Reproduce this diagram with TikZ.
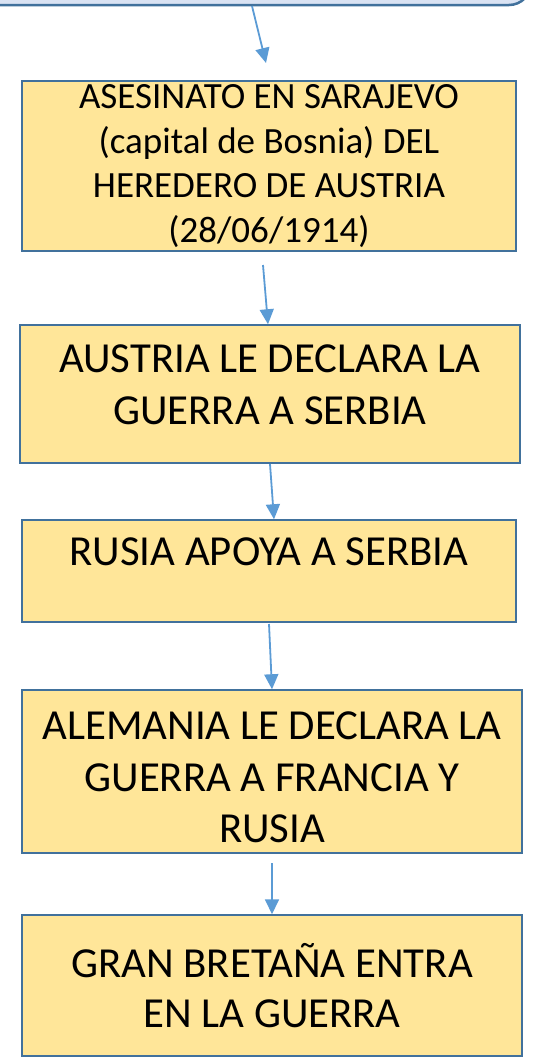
\documentclass[tikz,border=0pt]{standalone}
\usepackage{fontspec}
\setmainfont{Carlito}
\usetikzlibrary{arrows.meta,calc}
\definecolor{boxfill}{HTML}{FFE699}
\definecolor{boxline}{HTML}{41719C}
\definecolor{topfill}{HTML}{DAE3F3}
\definecolor{arrcol}{HTML}{5B9BD5}
\tikzset{
  stepbox/.style={draw=boxline, line width=1.5pt, fill=boxfill, rectangle, align=center, inner sep=0pt},
  arr/.style={draw=arrcol, line width=1.8pt, -{Triangle[length=15pt,width=14pt]}},
}
\begin{document}
\begin{tikzpicture}[x=1pt,y=-1pt]
\useasboundingbox (0,0) rectangle (538,1058);
\node[draw=boxline, line width=2.5pt, fill=topfill, rounded corners=22pt, minimum width=560pt, minimum height=80pt, inner sep=0pt] (top) at (251,-35) {};
\node[stepbox, minimum width=494pt, minimum height=170pt, font=\fontsize{37}{44.5}\selectfont] (b1) at (269,166)
  {ASESINATO EN SARAJEVO\\(capital de Bosnia) DEL\\HEREDERO DE AUSTRIA\\(28/06/1914)};
\node[stepbox, minimum width=500pt, minimum height=138pt, font=\fontsize{42.8}{52}\selectfont] (b2) at (270,394)
  {AUSTRIA LE DECLARA LA\\GUERRA A SERBIA\\[-34pt]\mbox{}};
\node[stepbox, minimum width=494pt, minimum height=102pt, font=\fontsize{42.8}{52}\selectfont] (b3) at (269,571)
  {RUSIA APOYA A SERBIA\\[-14pt]\mbox{}};
\node[stepbox, minimum width=500pt, minimum height=163pt, font=\fontsize{42.8}{51.5}\selectfont] (b4) at (272,771.5)
  {\mbox{}\\[-12pt]ALEMANIA LE DECLARA LA\\GUERRA A FRANCIA Y\\RUSIA};
\node[stepbox, minimum width=500pt, minimum height=141pt, font=\fontsize{42.8}{50}\selectfont] (b5) at (272,985.5)
  {GRAN BRETAÑA ENTRA\\EN LA GUERRA};
\coordinate (s0) at (252,6);
\coordinate (e0) at (266,63);
\coordinate (s1) at (263,265);
\coordinate (s2) at (270,464);
\coordinate (s3) at (269,624);
\coordinate (s4) at (272,863);
\draw[arr] (s0) -- (e0);
\draw[arr] (s1) -- ([xshift=-2pt]b2.north);
\draw[arr] (s2) -- ([xshift=5pt]b3.north);
\draw[arr] (s3) -- (b4.north);
\draw[arr] (s4) -- (b5.north);
\end{tikzpicture}
\end{document}
